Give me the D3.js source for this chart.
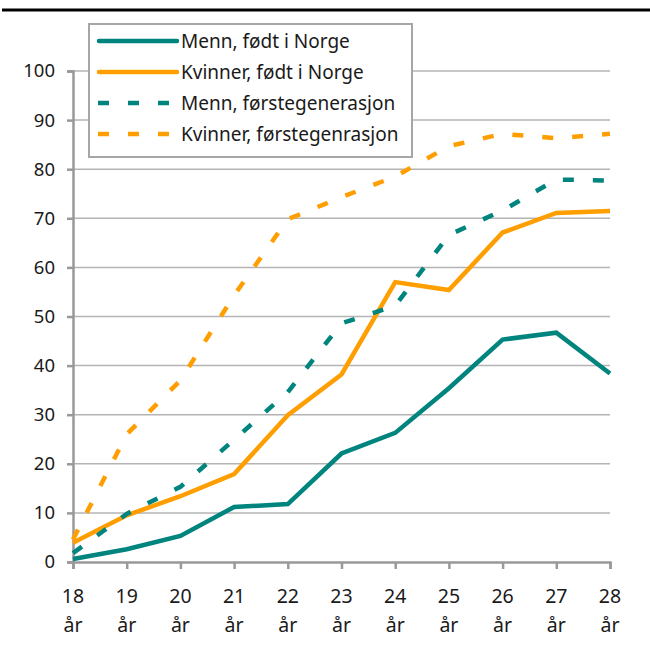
<!DOCTYPE html>
<html>
<head>
<meta charset="utf-8">
<script src="https://cdn.jsdelivr.net/npm/d3@7"></script>
<style>
  body { margin: 0; background: #fff; }
  text { font-family: "Noto Sans", sans-serif; fill: #1a1a1a; }
</style>
</head>
<body>
<div id="chart"></div>
<script>
// ages on the x axis
var ages = [18, 19, 20, 21, 22, 23, 24, 25, 26, 27, 28];
var yTicks = [0, 10, 20, 30, 40, 50, 60, 70, 80, 90, 100];

// values, per cent
var mennNorge = [0.6, 2.6, 5.3, 11.2, 11.8, 22.1, 26.3, 35.4, 45.3, 46.7, 38.4];
var kvinnerNorge = [3.9, 9.5, 13.4, 17.9, 29.9, 38.2, 57.0, 55.4, 67.1, 71.1, 71.5];
var mennFoerste = [1.8, 9.8, 15.3, 24.9, 34.6, 48.6, 52.2, 66.6, 71.6, 77.9, 77.7];
var kvinnerFoerste = [4.6, 26.0, 37.0, 54.3, 69.8, 74.3, 78.5, 84.7, 87.2, 86.3, 87.2];

var teal = "#00847e", orange = "#ff9e00";

var series = [
  { name: "Menn, født i Norge", values: mennNorge, color: teal, dash: null },
  { name: "Kvinner, født i Norge", values: kvinnerNorge, color: orange, dash: null },
  { name: "Menn, førstegenerasjon", values: mennFoerste, color: teal, dash: "11,19" },
  { name: "Kvinner, førstegenrasjon", values: kvinnerFoerste, color: orange, dash: "11,19" }
];

var W = 650, H = 651;
var svg = d3.select("#chart").append("svg").attr("width", W).attr("height", H);

// black rule at the top
svg.append("line")
  .attr("x1", 2).attr("x2", 650).attr("y1", 10).attr("y2", 10)
  .attr("stroke", "#000").attr("stroke-width", 3);

var x = d3.scaleLinear().domain([18, 28]).range([73, 610]);
var y = d3.scaleLinear().domain([0, 100]).range([562, 71]);

// gridlines
svg.append("g").selectAll("line")
  .data(yTicks.filter(function (d) { return d > 0; }))
  .enter().append("line")
    .attr("x1", x(18)).attr("x2", x(28))
    .attr("y1", function (d) { return y(d); })
    .attr("y2", function (d) { return y(d); })
    .attr("stroke", "#b4b4b4").attr("stroke-width", 1.5);

// y axis
var yAxis = svg.append("g")
  .attr("transform", "translate(" + x(18) + ",0)")
  .call(d3.axisLeft(y).tickValues(yTicks).tickSize(6).tickPadding(12));
yAxis.selectAll("text").style("font-size", "18.5px").attr("fill", "#1a1a1a");

// x axis
var xAxis = svg.append("g")
  .attr("transform", "translate(0," + y(0) + ")")
  .call(d3.axisBottom(x).tickValues(ages).tickSize(7).tickFormat(""));

[yAxis, xAxis].forEach(function (a) {
  a.select(".domain").attr("stroke", "#999").attr("stroke-width", 2.5);
  a.selectAll(".tick line").attr("stroke", "#999").attr("stroke-width", 2.5);
});

// two-line x labels
var xl = svg.append("g").selectAll("text").data(ages).enter().append("text")
  .attr("text-anchor", "middle")
  .style("font-size", "19.5px")
  .attr("x", function (d) { return x(d); });
xl.append("tspan").attr("x", function (d) { return x(d); }).attr("y", 603)
  .text(function (d) { return d; });
xl.append("tspan").attr("x", function (d) { return x(d); }).attr("y", 632)
  .text("år");

// lines
var line = d3.line()
  .x(function (d, i) { return x(ages[i]); })
  .y(function (d) { return y(d); });

svg.append("g").selectAll("path").data(series).enter().append("path")
  .attr("d", function (s) { return line(s.values); })
  .attr("fill", "none")
  .attr("stroke", function (s) { return s.color; })
  .attr("stroke-width", 4.5)
  .attr("stroke-dasharray", function (s) { return s.dash; });

// legend
var lg = svg.append("g");
lg.append("rect")
  .attr("x", 89).attr("y", 24).attr("width", 323).attr("height", 133)
  .attr("fill", "#fff").attr("stroke", "#a6a6a6").attr("stroke-width", 2);

var rows = lg.selectAll("g.row").data(series).enter().append("g")
  .attr("transform", function (d, i) { return "translate(0," + (41 + i * 31) + ")"; });
rows.append("line")
  .attr("x1", function (d) { return d.dash ? 98 : 99; })
  .attr("x2", 177)
  .attr("stroke", function (d) { return d.color; })
  .attr("stroke-width", 4.5)
  .attr("stroke-linecap", function (d) { return d.dash ? "butt" : "round"; })
  .attr("stroke-dasharray", function (d) { return d.dash; });
rows.append("text")
  .attr("x", 181).attr("y", 7)
  .style("font-size", "19px")
  .text(function (d) { return d.name; });
</script>
</body>
</html>
